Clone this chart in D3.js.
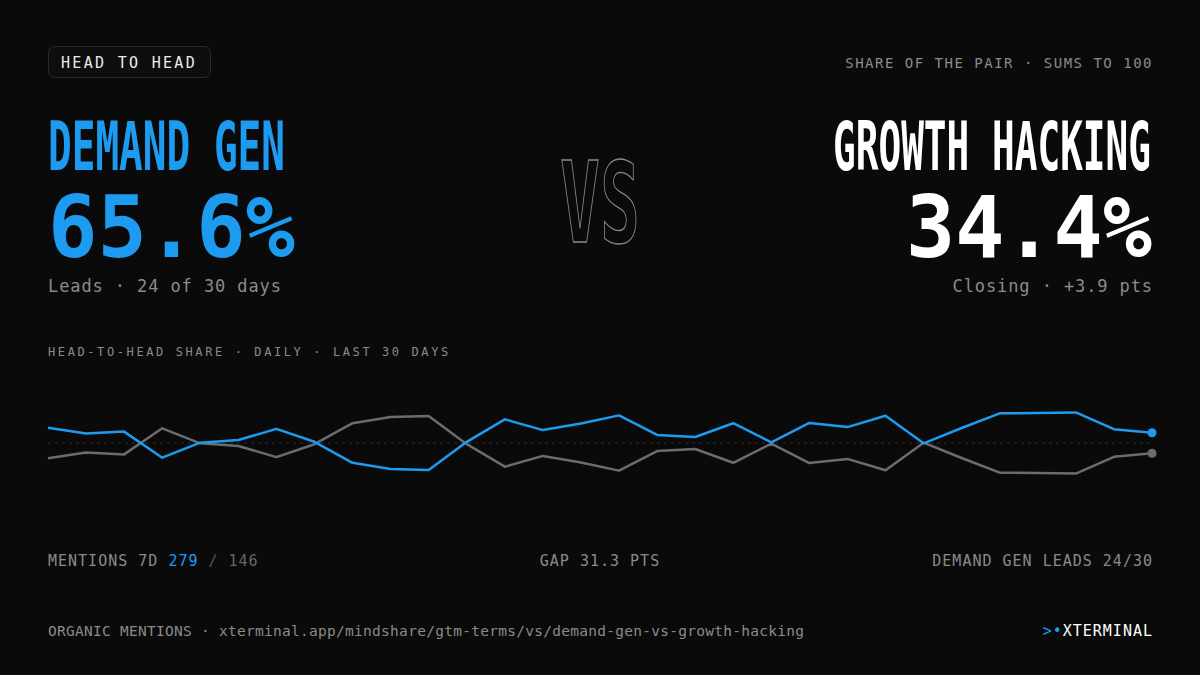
<!DOCTYPE html>
<html><head><meta charset="utf-8">
<script src="https://cdn.jsdelivr.net/npm/d3@7"></script>
<style>
body{margin:0;background:#0a0a0a;}
text{font-family:"DejaVu Sans Mono","Liberation Mono",monospace;}
</style></head>
<body><div id="chart"></div>
<script>
var days = d3.range(1, 31);
var demandGen = [55.1,53.2,53.8,45.1,50.1,51.0,54.7,50.4,43.4,41.3,41.0,50.4,57.9,54.3,56.5,59.2,52.7,52.0,56.6,50.2,56.7,55.3,59.1,49.9,55.0,59.9,60.0,60.2,54.6,53.4];
var growthHacking = [44.9,46.8,46.2,54.9,49.9,49.0,45.3,49.6,56.6,58.7,59.0,49.6,42.1,45.7,43.5,40.8,47.3,48.0,43.4,49.8,43.3,44.7,40.9,50.1,45.0,40.1,40.0,39.8,45.4,46.6];

var W = 1200, H = 675, blue = "#1d9bf0", grey = "#6b6b72";
var svg = d3.select("#chart").append("svg").attr("width", W).attr("height", H);
svg.append("rect").attr("width", W).attr("height", H).attr("fill", "#0a0a0a");

function txt(x, y, s, size, fill, anchor, ls) {
  return svg.append("text").attr("x", x).attr("y", y).attr("font-size", size)
    .attr("fill", fill).attr("text-anchor", anchor || "start")
    .attr("letter-spacing", ls || 0).text(s);
}
var narrow = "'Liberation Sans Narrow','Liberation Sans',sans-serif";

// badge
svg.append("rect").attr("x", 48.5).attr("y", 46.5).attr("width", 162).attr("height", 31)
  .attr("rx", 6).attr("fill", "#0e0e0e").attr("stroke", "#2a2a2a");
txt(61, 68, "HEAD TO HEAD", 15, "#eaeaea", "start", 2.3);
txt(1153, 68, "SHARE OF THE PAIR · SUMS TO 100", 14, "#8a8a8a", "end", 1.5);

// titles
txt(48, 170, "DEMAND GEN", 68, blue).attr("font-family", narrow)
  .attr("font-weight", "bold").attr("textLength", 237).attr("lengthAdjust", "spacingAndGlyphs");
txt(1151, 170, "GROWTH HACKING", 68, "#ffffff", "end").attr("font-family", narrow)
  .attr("font-weight", "bold").attr("textLength", 318).attr("lengthAdjust", "spacingAndGlyphs");
txt(600, 242, "VS", 112, "none", "middle").attr("font-family", narrow)
  .attr("font-weight", "bold").attr("stroke", "#8a8a8a").attr("stroke-width", 1.3)
  .attr("textLength", 80).attr("lengthAdjust", "spacingAndGlyphs");

txt(48, 257, "65.6%", 86, blue).attr("font-weight", "bold").attr("textLength", 247).attr("lengthAdjust", "spacingAndGlyphs");
txt(1152, 257, "34.4%", 86, "#ffffff", "end").attr("font-weight", "bold").attr("textLength", 246).attr("lengthAdjust", "spacingAndGlyphs");
txt(48, 292, "Leads · 24 of 30 days", 17, "#8a8a8a", "start", 0.9);
txt(1153, 292, "Closing · +3.9 pts", 17, "#8a8a8a", "end", 0.9);

txt(48, 356, "HEAD-TO-HEAD SHARE · DAILY · LAST 30 DAYS", 12, "#8a8a8a", "start", 2.6);

// chart
var x = d3.scaleLinear().domain([1, 30]).range([48, 1152]);
var y = d3.scaleLinear().domain([35, 65]).range([488, 398]);
svg.append("line").attr("x1", 48).attr("x2", 1152).attr("y1", y(50)).attr("y2", y(50))
  .attr("stroke", "#2c2c2c").attr("stroke-dasharray", "3,4");
var line = d3.line().x(function(d, i) { return x(days[i]); }).y(function(d) { return y(d); });
[[growthHacking, grey], [demandGen, blue]].forEach(function(s) {
  svg.append("path").datum(s[0]).attr("d", line).attr("fill", "none")
    .attr("stroke", s[1]).attr("stroke-width", 2.5).attr("stroke-linejoin", "round");
  svg.append("circle").attr("cx", x(30)).attr("cy", y(s[0][29])).attr("r", 4.5).attr("fill", s[1]);
});

// stats row
var t = txt(48, 566, "", 15, "#8a8a8a", "start", 1);
t.append("tspan").text("MENTIONS 7D ");
t.append("tspan").attr("fill", blue).text("279");
t.append("tspan").attr("fill", "#555").text(" / ");
t.append("tspan").attr("fill", "#666").text("146");
txt(600, 566, "GAP 31.3 PTS", 15, "#8a8a8a", "middle", 1);
txt(1153, 566, "DEMAND GEN LEADS 24/30", 15, "#8a8a8a", "end", 1);

// footer
txt(48, 636, "ORGANIC MENTIONS · xterminal.app/mindshare/gtm-terms/vs/demand-gen-vs-growth-hacking", 14.5, "#8a8a8a")
  .attr("textLength", 756).attr("lengthAdjust", "spacing");
var f = txt(1153, 636, "", 15, "#ffffff", "end", 1);
f.append("tspan").attr("fill", blue).text(">•");
f.append("tspan").text("XTERMINAL");
</script></body></html>
